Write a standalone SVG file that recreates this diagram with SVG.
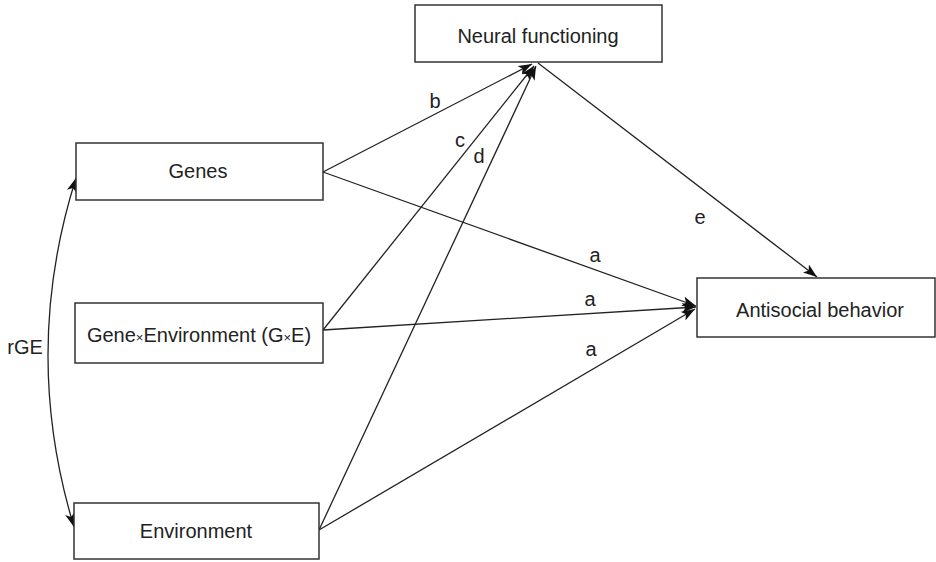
<svg xmlns="http://www.w3.org/2000/svg" width="936" height="562" viewBox="0 0 936 562">
<style>
.box{fill:#fff;stroke:#333;stroke-width:1.5}
.t{font-family:"Liberation Sans",Arial,sans-serif;font-size:20px;fill:#222;text-anchor:middle}
.x{font-size:13px}
.ln{fill:none;stroke:#222;stroke-width:1.3}
</style>
<defs>
<marker id="ah" markerUnits="userSpaceOnUse" markerWidth="15" markerHeight="11" refX="14" refY="5" orient="auto-start-reverse">
<path d="M0,0 L14,5 L0,10 L3.5,5 z" fill="#111"/>
</marker>
</defs>
<rect width="936" height="562" fill="#fff"/>
<g id="connectors">
<line class="ln" x1="323" y1="172" x2="532" y2="64" marker-end="url(#ah)"/>
<line class="ln" x1="323" y1="330" x2="534" y2="66" marker-end="url(#ah)"/>
<line class="ln" x1="319" y1="530" x2="536" y2="66" marker-end="url(#ah)"/>
<line class="ln" x1="323" y1="172" x2="696" y2="306" marker-end="url(#ah)"/>
<line class="ln" x1="323" y1="330" x2="696" y2="307" marker-end="url(#ah)"/>
<line class="ln" x1="319" y1="530" x2="695" y2="309" marker-end="url(#ah)"/>
<line class="ln" x1="538" y1="63" x2="817" y2="277" marker-end="url(#ah)"/>
<path class="ln" d="M76,178 Q21,352 74,527" marker-start="url(#ah)" marker-end="url(#ah)"/>
<text class="t" x="435" y="108">b</text>
<text class="t" x="460" y="147">c</text>
<text class="t" x="479" y="163">d</text>
<text class="t" x="595" y="262">a</text>
<text class="t" x="590" y="306">a</text>
<text class="t" x="591" y="356">a</text>
<text class="t" x="700" y="224">e</text>
<text class="t" x="25" y="354">rGE</text>
</g>
<g id="neural">
<rect class="box" x="415" y="5" width="247" height="57"/>
<text class="t" x="538" y="43">Neural functioning</text>
</g>
<g id="genes">
<rect class="box" x="76" y="143" width="247" height="57"/>
<text class="t" x="198" y="178">Genes</text>
</g>
<g id="gxe">
<rect class="box" x="75" y="303" width="248" height="60"/>
<text class="t" x="199" y="342">Gene<tspan class="x">×</tspan>Environment (G<tspan class="x">×</tspan>E)</text>
</g>
<g id="environment">
<rect class="box" x="74" y="503" width="245" height="56"/>
<text class="t" x="196" y="538">Environment</text>
</g>
<g id="antisocial">
<rect class="box" x="697" y="278" width="238" height="59"/>
<text class="t" x="820" y="317">Antisocial behavior</text>
</g>
</svg>
